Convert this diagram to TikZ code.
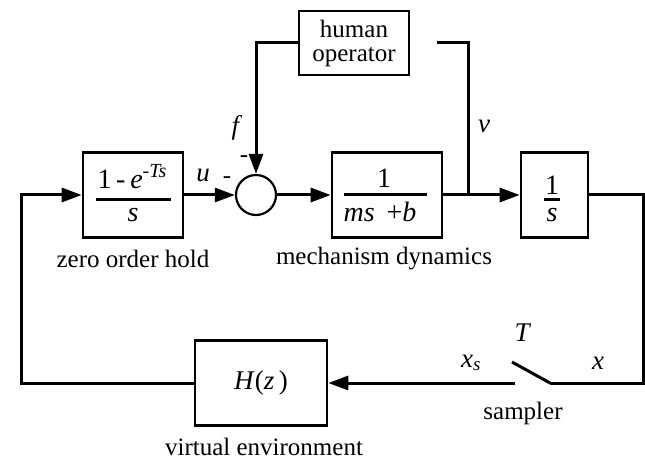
\documentclass[tikz,border=0pt]{standalone}
\usepackage{fontspec}
\setmainfont{Liberation Serif}
\usetikzlibrary{arrows.meta}
\newcommand\lbfont{\fontsize{25}{28}\selectfont}
\newcommand\itfont{\fontsize{27}{29}\selectfont}
\newcommand\frfont{\fontsize{28}{30}\selectfont}
\begin{document}
\begin{tikzpicture}[x=1pt,y=-1pt,
  blk/.style={draw, line width=2.6pt, inner sep=0pt},
  ln/.style={line width=3pt},
  arr/.style={line width=3pt, -{Triangle[length=20pt 0 0, width=14pt 0 0]}},
  bar/.style={line width=3pt},
  lbl/.style={font=\lbfont, inner sep=0pt},
  ilbl/.style={font=\itfont, inner sep=0pt},
  fr/.style={font=\frfont, inner sep=0pt, anchor=base}]
\useasboundingbox (0,0) rectangle (645,462);

% blocks
\node[blk, minimum width=100pt, minimum height=85pt] (zoh) at (133,195) {};
\node[blk, minimum width=110pt, minimum height=85pt] (mech) at (387,195) {};
\node[blk, minimum width=67pt, minimum height=85pt] (ints) at (554.5,195) {};
\node[blk, minimum width=110pt, minimum height=64pt, align=center, font=\lbfont] (hop) at (354,43) {human\\[-4pt]operator};
\node[blk, minimum width=132pt, minimum height=85pt, font=\itfont] (hz) at (261,383) {\textit{H}(\textit{z}\,)};
\node[draw, circle, line width=2.2pt, minimum size=40pt, inner sep=0pt] (sum) at (256,195) {};

% fraction contents
\node[fr] (zohn) at (132,189) {1\,-\,\textit{e}\raisebox{11pt}{\fontsize{20}{20}\selectfont-\textit{Ts}}};
\draw[bar] (96,200) -- (171,200);
\node[fr] (zohd) at (133,222) {\textit{s}};
\node[fr] (mechn) at (384,188) {1};
\draw[bar] (344,195) -- (427,195);
\node[fr] (mechd) at (380,222) {\textit{ms} \,+\textit{b}};
\node[fr] (intn) at (552,195) {1};
\draw[bar] (544,200) -- (560,200);
\node[fr] (intd) at (552,222) {\textit{s}};

% labels
\node[ilbl] (lf) at (237,128) {\textit{f}};
\node[lbl] (lm1) at (244,159) {-};
\node[ilbl] (lu) at (203,175) {\textit{u}};
\node[lbl] (lm2) at (227,180) {-};
\node[ilbl] (lv) at (484,126) {\textit{v}};
\node[ilbl] (lT) at (523,333) {\textit{T}};
\node[ilbl] (lxs) at (471,363) {\textit{x}\textsubscript{\textit{s}}};
\node[ilbl] (lx) at (598,363) {\textit{x}};
\node[lbl] (tzoh) at (133,259) {zero order hold};
\node[lbl] (tmech) at (384,259) {mechanism dynamics};
\node[lbl] (tsamp) at (523,413) {sampler};
\node[lbl] (tve) at (264,447) {virtual environment};

% coordinates
\coordinate (lt) at (21,195);
\coordinate (vs) at (437,43);
\coordinate (vj) at (468,195);
\coordinate (rc) at (643,383);
\coordinate (swb) at (550,383);
\coordinate (swa) at (512,362);
\coordinate (swl) at (515,383);

% connectors
\draw[arr] (hz.west) -| (lt) -- (zoh.west);
\draw[arr] (zoh.east) -- (sum.west);
\draw[arr] (sum.east) -- (mech.west);
\draw[arr] (mech.east) -- (ints.west);
\draw[arr] (hop.west) -| (sum.north);
\draw[ln] (vs) -| (vj);
\draw[ln] (ints.east) -| (rc) -- (swb);
\draw[ln] (swb) -- (swa);
\draw[arr] (swl) -- (hz.east);
\end{tikzpicture}
\end{document}
